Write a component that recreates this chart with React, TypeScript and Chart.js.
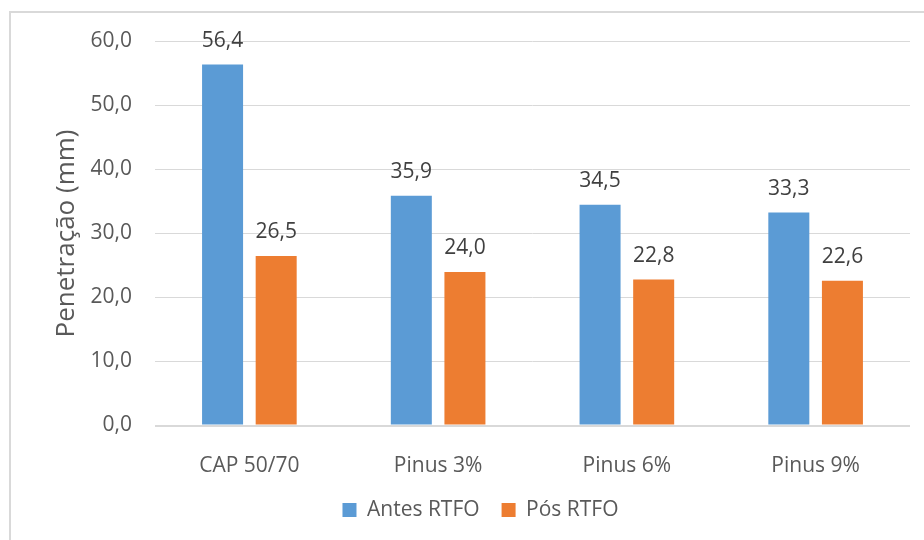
import { useEffect, useRef } from "react";
import { Chart, registerables } from "chart.js";

Chart.register(...registerables);

const categories = ["CAP 50/70", "Pinus 3%", "Pinus 6%", "Pinus 9%"];
const seriesNames = ["Antes RTFO", "Pós RTFO"];
const antesRTFO = [56.4, 35.9, 34.5, 33.3];
const posRTFO = [26.5, 24.0, 22.8, 22.6];
const yMin = 0;
const yMax = 60;
const yStep = 10;
const yTitle = "Penetração (mm)";

const FONT = "'Open Sans', 'Noto Sans', sans-serif";
const fmt = (v: number) => v.toFixed(1).replace(".", ",");

// Writes each bar's value just above its top
const valueLabels = {
  id: "valueLabels",
  afterDatasetsDraw(chart: any) {
    const ctx = chart.ctx;
    ctx.save();
    ctx.font = `21px ${FONT}`;
    ctx.fillStyle = "#404040";
    ctx.textAlign = "center";
    ctx.textBaseline = "middle";
    chart.data.datasets.forEach((ds: any, i: number) => {
      const meta = chart.getDatasetMeta(i);
      meta.data.forEach((bar: any, j: number) => {
        ctx.fillText(fmt(ds.data[j]), bar.x, bar.y - 23.5);
      });
    });
    ctx.restore();
  },
};

export default function App() {
  const canvasRef = useRef<HTMLCanvasElement>(null);

  useEffect(() => {
    const chart = new Chart(canvasRef.current!, {
      type: "bar",
      data: {
        labels: categories,
        datasets: [
          {
            label: seriesNames[0],
            data: antesRTFO,
            backgroundColor: "#5B9BD5",
            categoryPercentage: 0.568,
            barPercentage: 0.765,
          },
          {
            label: seriesNames[1],
            data: posRTFO,
            backgroundColor: "#ED7D31",
            categoryPercentage: 0.568,
            barPercentage: 0.765,
          },
        ],
      },
      options: {
        animation: false,
        responsive: false,
        maintainAspectRatio: false,
        layout: { padding: { left: 51, right: 14, top: 41.5, bottom: 9.5 } },
        plugins: {
          tooltip: { enabled: false },
          legend: {
            position: "bottom",
            labels: {
              boxWidth: 14,
              boxHeight: 14,
              padding: 22,
              color: "#595959",
              font: { family: FONT, size: 21 },
            },
          },
        },
        scales: {
          x: {
            grid: { display: false },
            border: { display: false },
            ticks: {
              color: "#595959",
              padding: 20,
              font: { family: FONT, size: 21 },
            },
            afterFit(scale: any) {
              scale.height = 52;
            },
          },
          y: {
            min: yMin,
            max: yMax,
            border: { display: false },
            grid: {
              color: "#d9d9d9",
              drawTicks: false,
              lineWidth: (c: any) => (c.tick && c.tick.value === 0 ? 2 : 1),
            },
            ticks: {
              stepSize: yStep,
              color: "#595959",
              padding: 23,
              font: { family: FONT, size: 21 },
              callback: (v: any) => fmt(Number(v)),
            },
            title: {
              display: true,
              text: yTitle,
              color: "#595959",
              padding: { top: 0, bottom: 0 },
              font: { family: FONT, size: 26 },
            },
            afterFit(scale: any) {
              scale.width = 104;
            },
          },
        },
      },
      plugins: [valueLabels],
    });
    return () => chart.destroy();
  }, []);

  return (
    <div
      style={{
        position: "fixed",
        left: 0,
        top: 0,
        width: 924,
        height: 540,
        overflow: "hidden",
        background: "#ffffff",
      }}
    >
      <div
        style={{
          position: "absolute",
          left: 9,
          top: 11,
          width: 1000,
          height: 1000,
          border: "2px solid #d9d9d9",
        }}
      />
      <canvas
        ref={canvasRef}
        width={924}
        height={540}
        style={{ position: "absolute", left: 0, top: 0 }}
      />
    </div>
  );
}
